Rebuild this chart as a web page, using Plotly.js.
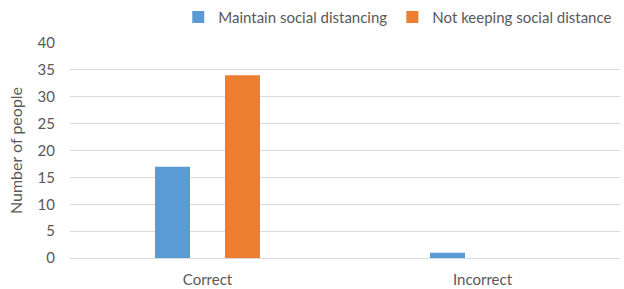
<!DOCTYPE html>
<html><head><meta charset="utf-8">
<script src="https://cdn.plot.ly/plotly-3.0.1.min.js"></script>
<style>html,body{margin:0;padding:0;background:#fff}#c{width:624px;height:289px}</style>
</head><body><div id="c"></div>
<script>
const categories = ["Correct", "Incorrect"];
const maintain = [17, 1];
const notKeeping = [34, 0];
const seriesNames = ["Maintain social distancing", "Not keeping social distance"];
const yTicks = [0, 5, 10, 15, 20, 25, 30, 35, 40];

const font = {family: "Lato, 'Open Sans', sans-serif", size: 15, color: "#595959"};
const data = [
  {type: "bar", x: categories, y: maintain, name: seriesNames[0], marker: {color: "#5b9bd5"}},
  {type: "bar", x: categories, y: notKeeping, name: seriesNames[1], marker: {color: "#ed7d31"}}
];
const layout = {
  width: 624, height: 289,
  margin: {l: 70, r: 4, t: 43, b: 31, autoexpand: false},
  paper_bgcolor: "#fff", plot_bgcolor: "#fff",
  font: font,
  barmode: "group", bargap: 0.491, bargroupgap: 0.5,
  showlegend: true,
  legend: {orientation: "h", x: 0.995, xanchor: "right", y: 1.12, yanchor: "middle", font: font, itemwidth: 30, traceorder: "normal"},
  xaxis: {type: "category", showgrid: false, showline: false, ticks: "", tickfont: font, ticklabelstandoff: 11, automargin: false},
  yaxis: {range: [0, 40], tickvals: yTicks, showgrid: true, gridcolor: "#d9d9d9", zeroline: true, zerolinecolor: "#d9d9d9", showline: false, ticks: "", tickfont: font, ticklabelstandoff: 14, automargin: false,
    title: {text: "Number of people", font: {family: font.family, size: 16, color: "#595959"}, standoff: 10}}
};
Plotly.newPlot("c", data, layout, {displayModeBar: false, staticPlot: true});
</script></body></html>
